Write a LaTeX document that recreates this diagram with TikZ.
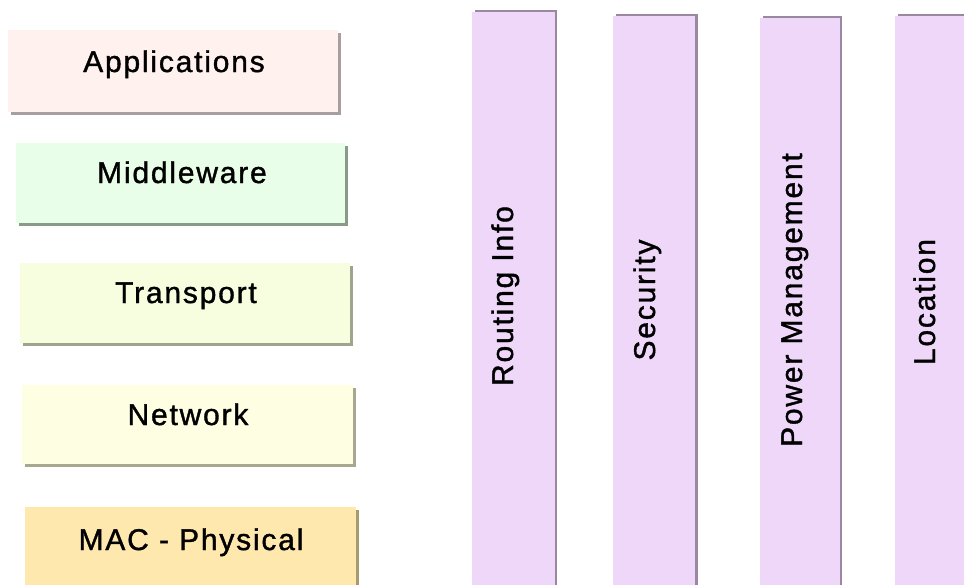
\documentclass[tikz,border=0pt]{standalone}
\usepackage{fontspec}
\setmainfont{Liberation Sans}[LetterSpace=6,FakeBold=1.2]
\definecolor{appfill}{HTML}{FFF1EE}
\definecolor{appsh}{HTML}{A8A0A0}
\definecolor{midfill}{HTML}{E9FEE9}
\definecolor{midsh}{HTML}{8A9A8A}
\definecolor{trafill}{HTML}{F6FEDF}
\definecolor{trash}{HTML}{9EA48E}
\definecolor{netfill}{HTML}{FEFEE2}
\definecolor{netsh}{HTML}{A8A890}
\definecolor{macfill}{HTML}{FFE8AE}
\definecolor{macsh}{HTML}{A89A70}
\definecolor{barfill}{HTML}{EED7F9}
\definecolor{barsh}{HTML}{9A88A0}
\tikzset{
  lbl/.style={inner sep=0pt, anchor=base, font=\fontsize{30}{36}\selectfont, text=black},
  vlbl/.style={lbl, rotate=90}
}
\begin{document}
\begin{tikzpicture}[x=1pt,y=-1pt]
\useasboundingbox (0,0) rectangle (964,584);
% left layer boxes (shadow then fill)
\fill[appsh] (11,33) rectangle (341,115);
\fill[appfill] (8,30) rectangle (338,112);
\fill[midsh] (19,146) rectangle (348,226);
\fill[midfill] (16,143) rectangle (345,223);
\fill[trash] (23,266) rectangle (353,346);
\fill[trafill] (20,263) rectangle (350,343);
\fill[netsh] (25,388) rectangle (356,467);
\fill[netfill] (22,385) rectangle (353,464);
\fill[macsh] (28,510) rectangle (359,590);
\fill[macfill] (25,507) rectangle (356,590);
% vertical bars (shadow up-right then fill)
\fill[barsh] (475,10) rectangle (557,590);
\fill[barfill] (472,12) rectangle (555,590);
\fill[barsh] (616,14) rectangle (698,590);
\fill[barfill] (613,16) rectangle (695,590);
\fill[barsh] (763,16) rectangle (842,590);
\fill[barfill] (760,18) rectangle (840,590);
\fill[barsh] (898,14) rectangle (970,590);
\fill[barfill] (895,16) rectangle (970,590);
% labels
\node[lbl] (app) at (174,72) {Applications};
\node[lbl] (mid) at (182,183) {Middleware};
\node[lbl] (tra) at (186,303) {Transport};
\node[lbl] (net) at (188,425) {Network};
\node[lbl] (mac) at (191,550) {MAC - Physical};
\node[vlbl] (rout) at (513,296) {Routing Info};
\node[vlbl] (sec) at (655,300) {Security};
\node[vlbl] (pow) at (802,300) {Power Management};
\node[vlbl] (loc) at (935,302) {Location};
\end{tikzpicture}
\end{document}
